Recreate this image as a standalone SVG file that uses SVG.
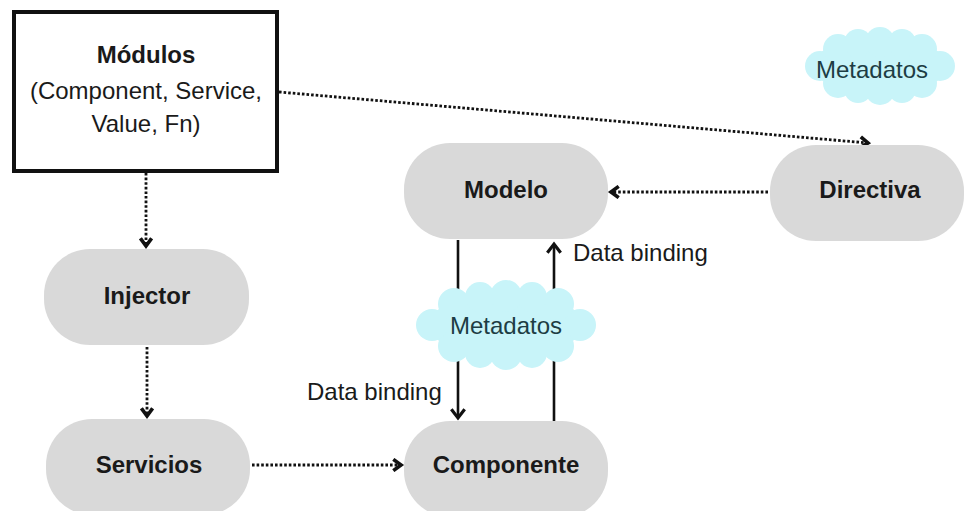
<svg xmlns="http://www.w3.org/2000/svg" width="966" height="511" viewBox="0 0 966 511">
<style>
.pill{fill:#d9d9d9;}
.cloud{fill:#c8f4f9;}
.bold{font-family:"Liberation Sans",Arial,sans-serif;font-weight:bold;font-size:24px;fill:#1a1a1a;text-anchor:middle;}
.reg{font-family:"Liberation Sans",Arial,sans-serif;font-size:24px;fill:#1a1a1a;}
.ctext{font-family:"Liberation Sans",Arial,sans-serif;font-size:24px;fill:#1d3d44;text-anchor:middle;}
.dot{fill:none;stroke:#111;stroke-width:2.8;stroke-dasharray:2.6 2;}
.solid{fill:none;stroke:#111;stroke-width:2.6;}
</style>
<defs>
<marker id="chev" markerUnits="userSpaceOnUse" markerWidth="14" markerHeight="14" refX="7" refY="5" orient="auto" viewBox="0 0 10 10">
<path d="M1.5,1 L7,5 L1.5,9" fill="none" stroke="#111" stroke-width="2.6"/>
</marker>
<marker id="arr" markerUnits="userSpaceOnUse" markerWidth="16" markerHeight="16" refX="8" refY="6" orient="auto" viewBox="0 0 12 12">
<path d="M1.5,1 L8,6 L1.5,11" fill="none" stroke="#111" stroke-width="2.4"/>
</marker>
</defs>
<rect width="966" height="511" fill="#ffffff"/>
<g id="connectors">
<path class="dot" d="M146 173 V246" marker-end="url(#chev)"/>
<path class="dot" d="M147 347 V416" marker-end="url(#chev)"/>
<path class="dot" d="M252 465 H401" marker-end="url(#chev)"/>
<path class="dot" d="M768 192 H611" marker-end="url(#chev)"/>
<path class="dot" d="M279 92 L868 143" marker-end="url(#chev)"/>
<path class="solid" d="M458 240 V418" marker-end="url(#arr)"/>
<path class="solid" d="M554 421 V244" marker-end="url(#arr)"/>
</g>
<g id="modulos">
<rect x="14" y="12" width="263" height="159" fill="#ffffff" stroke="#111" stroke-width="4"/>
<text class="bold" x="146" y="63">Módulos</text>
<text class="reg" x="146" y="99" text-anchor="middle">(Component, Service,</text>
<text class="reg" x="146" y="132" text-anchor="middle">Value, Fn)</text>
</g>
<g id="injector">
<rect class="pill" x="44" y="249" width="205" height="96" rx="46" ry="46"/>
<text class="bold" x="147" y="304">Injector</text>
</g>
<g id="servicios">
<rect class="pill" x="46" y="419" width="204" height="96" rx="46" ry="46"/>
<text class="bold" x="149" y="473">Servicios</text>
</g>
<g id="modelo">
<rect class="pill" x="404" y="143" width="204" height="96" rx="46" ry="46"/>
<text class="bold" x="506" y="198">Modelo</text>
</g>
<g id="directiva">
<rect class="pill" x="770" y="145" width="194" height="96" rx="46" ry="46"/>
<text class="bold" x="870" y="198">Directiva</text>
</g>
<g id="componente">
<rect class="pill" x="404" y="421" width="204" height="96" rx="46" ry="46"/>
<text class="bold" x="506" y="473">Componente</text>
</g>
<g id="metadatos-top">
<g class="cloud">
<ellipse cx="880" cy="66" rx="66" ry="30"/>
<circle cx="940" cy="66" r="15"/>
<circle cx="922" cy="83" r="15"/>
<circle cx="880" cy="90" r="15"/>
<circle cx="838" cy="83" r="15"/>
<circle cx="820" cy="66" r="15"/>
<circle cx="838" cy="49" r="15"/>
<circle cx="880" cy="42" r="15"/>
<circle cx="922" cy="49" r="15"/>
<circle cx="858" cy="43" r="14"/>
<circle cx="902" cy="43" r="14"/>
<circle cx="858" cy="89" r="14"/>
<circle cx="902" cy="89" r="14"/>
</g>
<text class="ctext" x="872" y="78">Metadatos</text>
</g>
<g id="metadatos-mid">
<g class="cloud">
<ellipse cx="506" cy="325" rx="78" ry="31"/>
<circle cx="580" cy="325" r="16"/>
<circle cx="558" cy="346" r="16"/>
<circle cx="506" cy="354" r="16"/>
<circle cx="454" cy="346" r="16"/>
<circle cx="432" cy="325" r="16"/>
<circle cx="454" cy="304" r="16"/>
<circle cx="506" cy="296" r="16"/>
<circle cx="558" cy="304" r="16"/>
<circle cx="480" cy="297" r="15"/>
<circle cx="532" cy="297" r="15"/>
<circle cx="480" cy="353" r="15"/>
<circle cx="532" cy="353" r="15"/>
</g>
<text class="ctext" x="506" y="334">Metadatos</text>
</g>
<g id="labels">
<text class="reg" x="573" y="261">Data binding</text>
<text class="reg" x="307" y="400">Data binding</text>
</g>
</svg>
